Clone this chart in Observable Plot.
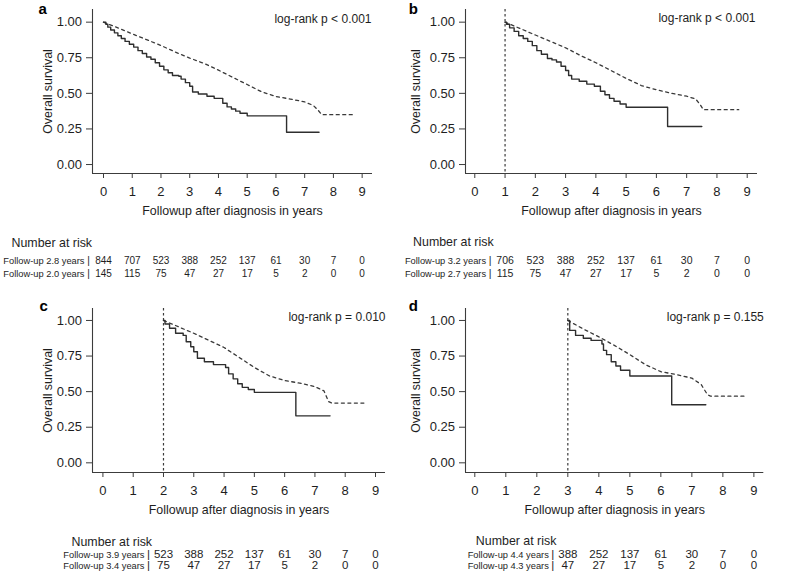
<!DOCTYPE html>
<html><head><meta charset="utf-8">
<script src="https://cdn.jsdelivr.net/npm/d3@7"></script>
<script src="https://cdn.jsdelivr.net/npm/@observablehq/plot@0.6"></script>
<style>
body{margin:0;background:#fff;}
#fig{position:relative;width:790px;height:581px;overflow:hidden;background:#fff;}
</style></head><body><div id="fig"></div>
<script>
// ---------- shared labels ----------
const xTickValues = [0, 1, 2, 3, 4, 5, 6, 7, 8, 9];
const yTickValues = [0, 0.25, 0.5, 0.75, 1];
const xTitle = "Followup after diagnosis in years";
const yTitle = "Overall survival";
const riskTitle = "Number at risk";

// ---------- panel a ----------
const aSolidTime = [0, 0.08, 0.15, 0.25, 0.38, 0.5, 0.62, 0.75, 0.9, 1.05, 1.2, 1.35, 1.5, 1.65, 1.8, 1.95, 2.1, 2.25, 2.4, 2.62, 2.7, 2.85, 3.0, 3.1, 3.3, 3.6, 3.85, 4.15, 4.3, 4.45, 4.6, 4.75, 5.0, 6.37, 7.5];
const aSolidSurv = [1, 0.985, 0.965, 0.945, 0.925, 0.905, 0.885, 0.865, 0.845, 0.825, 0.80, 0.78, 0.755, 0.74, 0.715, 0.69, 0.665, 0.645, 0.625, 0.62, 0.60, 0.575, 0.55, 0.51, 0.495, 0.48, 0.465, 0.43, 0.405, 0.39, 0.375, 0.36, 0.342, 0.227, 0.227];
const aDashTime = [0, 0.5, 1.0, 1.5, 2.0, 2.5, 3.0, 3.5, 4.0, 4.5, 5.0, 5.5, 6.0, 6.5, 7.0, 7.3, 7.45, 7.6, 8.75];
const aDashSurv = [1, 0.96, 0.918, 0.877, 0.836, 0.79, 0.748, 0.71, 0.663, 0.612, 0.562, 0.511, 0.478, 0.46, 0.44, 0.415, 0.385, 0.35, 0.35];
const aRiskTimes = [0, 1, 2, 3, 4, 5, 6, 7, 8, 9];
const aRiskRow1 = [844, 707, 523, 388, 252, 137, 61, 30, 7, 0];
const aRiskRow2 = [145, 115, 75, 47, 27, 17, 5, 2, 0, 0];
const aRowLabels = ["Follow-up 2.8 years", "Follow-up 2.0 years"];
const aPText = "log-rank p < 0.001";

// ---------- panel b ----------
const bSolidTime = [1.0, 1.05, 1.15, 1.3, 1.45, 1.6, 1.75, 1.9, 2.05, 2.2, 2.4, 2.55, 2.7, 2.85, 3.0, 3.1, 3.2, 3.45, 3.7, 3.95, 4.15, 4.3, 4.45, 4.6, 4.8, 5.0, 6.37, 7.5];
const bSolidSurv = [1, 0.985, 0.96, 0.935, 0.905, 0.885, 0.865, 0.835, 0.80, 0.775, 0.745, 0.735, 0.72, 0.69, 0.66, 0.625, 0.60, 0.585, 0.565, 0.55, 0.515, 0.49, 0.465, 0.445, 0.425, 0.402, 0.267, 0.267];
const bDashTime = [1.0, 1.5, 2.0, 2.5, 3.0, 3.5, 4.0, 4.5, 5.0, 5.5, 6.0, 6.5, 7.0, 7.3, 7.45, 7.55, 8.72];
const bDashSurv = [1, 0.955, 0.91, 0.865, 0.82, 0.765, 0.715, 0.66, 0.605, 0.555, 0.525, 0.50, 0.48, 0.46, 0.42, 0.385, 0.385];
const bRiskTimes = [1, 2, 3, 4, 5, 6, 7, 8, 9];
const bRiskRow1 = [706, 523, 388, 252, 137, 61, 30, 7, 0];
const bRiskRow2 = [115, 75, 47, 27, 17, 5, 2, 0, 0];
const bRowLabels = ["Follow-up 3.2 years", "Follow-up 2.7 years"];
const bPText = "log-rank p < 0.001";

// ---------- panel c ----------
const cSolidTime = [2.0, 2.05, 2.2, 2.4, 2.65, 2.75, 2.9, 3.0, 3.12, 3.35, 3.65, 4.05, 4.15, 4.3, 4.45, 4.6, 4.8, 5.0, 6.37, 7.5];
const cSolidSurv = [1, 0.975, 0.945, 0.91, 0.895, 0.85, 0.815, 0.78, 0.735, 0.71, 0.69, 0.67, 0.625, 0.59, 0.555, 0.53, 0.515, 0.495, 0.33, 0.33];
const cDashTime = [2.0, 2.5, 3.0, 3.5, 4.0, 4.5, 5.0, 5.5, 6.0, 6.5, 7.0, 7.3, 7.45, 7.55, 8.7];
const cDashSurv = [1, 0.955, 0.91, 0.86, 0.81, 0.74, 0.67, 0.61, 0.578, 0.56, 0.535, 0.505, 0.43, 0.42, 0.42];
const cRiskTimes = [2, 3, 4, 5, 6, 7, 8, 9];
const cRiskRow1 = [523, 388, 252, 137, 61, 30, 7, 0];
const cRiskRow2 = [75, 47, 27, 17, 5, 2, 0, 0];
const cRowLabels = ["Follow-up 3.9 years", "Follow-up 3.4 years"];
const cPText = "log-rank p = 0.010";

// ---------- panel d ----------
const dSolidTime = [3.0, 3.06, 3.25, 3.5, 3.75, 4.1, 4.15, 4.25, 4.4, 4.55, 4.7, 5.0, 6.35, 7.45];
const dSolidSurv = [1, 0.93, 0.895, 0.875, 0.86, 0.835, 0.79, 0.76, 0.71, 0.68, 0.65, 0.61, 0.408, 0.408];
const dDashTime = [3.0, 3.5, 4.0, 4.5, 5.0, 5.5, 6.0, 6.5, 7.0, 7.3, 7.5, 7.6, 8.7];
const dDashSurv = [1, 0.94, 0.885, 0.825, 0.76, 0.69, 0.64, 0.62, 0.595, 0.55, 0.48, 0.468, 0.468];
const dRiskTimes = [3, 4, 5, 6, 7, 8, 9];
const dRiskRow1 = [388, 252, 137, 61, 30, 7, 0];
const dRiskRow2 = [47, 27, 17, 5, 2, 0, 0];
const dRowLabels = ["Follow-up 4.4 years", "Follow-up 4.3 years"];
const dPText = "log-rank p = 0.155";

// ---------- drawing ----------
const fig = document.getElementById("fig");
const FONT = '"Liberation Sans", Arial, Helvetica, sans-serif';
const INK = "#1e1e1e";
const LINE = "#3c3c3c";

function place(node, left, top) {
  const wrap = document.createElement("div");
  wrap.style.position = "absolute";
  wrap.style.left = left + "px";
  wrap.style.top = top + "px";
  wrap.appendChild(node);
  fig.appendChild(wrap);
}
const zip = (ts, ss) => ts.map((t, i) => ({t, s: ss[i]}));

function drawPanel(p, L) {
  const marks = [
    Plot.ruleX([L.xDomain[0]], {stroke: LINE, strokeWidth: 1.1}),
    Plot.ruleY([L.yDomain[0]], {stroke: LINE, strokeWidth: 1.1}),
    Plot.axisX({ticks: xTickValues, tickSize: 5, tickPadding: 8, tickFormat: d => String(d), label: null, stroke: LINE, fill: INK, fontSize: 13}),
    Plot.axisY({ticks: yTickValues, tickSize: 6, tickPadding: 4.5, tickFormat: d3.format(".2f"), label: null, stroke: LINE, fill: INK, fontSize: 13})
  ];
  if (p.landmark != null) {
    marks.push(Plot.ruleX([p.landmark], {stroke: LINE, strokeWidth: 1.2, strokeDasharray: "2.5,2.5"}));
  }
  marks.push(
    Plot.line(zip(p.dashT, p.dashS), {x: "t", y: "s", stroke: "#3a3a3a", strokeWidth: 1.3, strokeDasharray: "3,3.5"}),
    Plot.line(zip(p.solidT, p.solidS), {x: "t", y: "s", curve: "step-after", stroke: "#2e2e2e", strokeWidth: 1.4}),
    Plot.text([p.letter], {frameAnchor: "top-left", textAnchor: "start", lineAnchor: "bottom", dx: L.letterDx, dy: L.letterDy, fontSize: 15, fontWeight: "bold", fill: "#000"}),
    Plot.text([p.pText], {frameAnchor: "top-right", textAnchor: "end", lineAnchor: "bottom", dx: L.pDx, dy: L.pDy, fontSize: 12, fill: INK}),
    Plot.text([xTitle], {frameAnchor: "bottom", lineAnchor: "bottom", dy: 41, fontSize: 12.4, fill: INK}),
    Plot.text([yTitle], {frameAnchor: "left", textAnchor: "middle", rotate: -90, lineAnchor: "bottom", dx: L.yTitleDx, fontSize: 12.4, fill: INK})
  );
  const svg = Plot.plot({
    width: L.width, height: L.height,
    marginLeft: L.mL, marginRight: L.mR, marginTop: L.mT, marginBottom: L.mB,
    x: {domain: L.xDomain},
    y: {domain: L.yDomain},
    style: {fontFamily: FONT, fontSize: "13px", color: INK, background: "transparent", overflow: "visible"},
    marks
  });
  place(svg, L.left, L.top);
}

function drawTable(p, L, T) {
  const rows = [];
  p.riskTimes.forEach((t, i) => {
    rows.push({t, row: p.rowLabels[0], n: p.row1[i]});
    rows.push({t, row: p.rowLabels[1], n: p.row2[i]});
  });
  const t0 = p.riskTimes[0];
  const svg = Plot.plot({
    width: L.width, height: T.height,
    marginLeft: L.mL, marginRight: L.mR, marginTop: 0, marginBottom: 0,
    x: {domain: L.xDomain, axis: null},
    y: {type: "point", domain: p.rowLabels, range: T.rowRange, padding: 0, axis: null},
    style: {fontFamily: FONT, fontSize: "12px", color: INK, background: "transparent", overflow: "visible"},
    marks: [
      Plot.text([riskTitle], {x: () => t0, frameAnchor: "top", textAnchor: "start", lineAnchor: "bottom", dx: -92, dy: T.headDy, fontSize: 12.4, fill: INK}),
      Plot.text(p.rowLabels, {x: () => t0, y: d => d, text: d => d, textAnchor: "end", lineAnchor: "bottom", dx: -19, fontSize: 9.3, fill: INK}),
      Plot.text(p.rowLabels, {x: () => t0, y: d => d, text: () => "|", lineAnchor: "bottom", dx: -15, fontSize: T.numSize, fill: INK}),
      Plot.text(rows, {x: "t", y: "row", text: "n", lineAnchor: "bottom", fontSize: T.numSize, fill: INK})
    ]
  });
  place(svg, L.left, T.top);
}

const panels = [
  {letter: "a", landmark: null, solidT: aSolidTime, solidS: aSolidSurv, dashT: aDashTime, dashS: aDashSurv, pText: aPText,
   riskTimes: aRiskTimes, row1: aRiskRow1, row2: aRiskRow2, rowLabels: aRowLabels},
  {letter: "b", landmark: 1, solidT: bSolidTime, solidS: bSolidSurv, dashT: bDashTime, dashS: bDashSurv, pText: bPText,
   riskTimes: bRiskTimes, row1: bRiskRow1, row2: bRiskRow2, rowLabels: bRowLabels},
  {letter: "c", landmark: 2, solidT: cSolidTime, solidS: cSolidSurv, dashT: cDashTime, dashS: cDashSurv, pText: cPText,
   riskTimes: cRiskTimes, row1: cRiskRow1, row2: cRiskRow2, rowLabels: cRowLabels},
  {letter: "d", landmark: 3, solidT: dSolidTime, solidS: dSolidSurv, dashT: dDashTime, dashS: dDashSurv, pText: dPText,
   riskTimes: dRiskTimes, row1: dRiskRow1, row2: dRiskRow2, rowLabels: dRowLabels}
];

const layouts = [
  {left: 0, top: 0, width: 395, height: 225, mL: 92, mR: 23, mT: 9, mB: 52, xDomain: [-0.383, 9.36], yDomain: [-0.063, 1.089],
   letterDx: -54, letterDy: 4.5, pDx: -1, pDy: 13.3, yTitleDx: -40.5},
  {left: 395, top: 0, width: 395, height: 225, mL: 70, mR: 33, mT: 9, mB: 52, xDomain: [-0.307, 9.34], yDomain: [-0.063, 1.089],
   letterDx: -56.7, letterDy: 4, pDx: -2, pDy: 12.7, yTitleDx: -45.5},
  {left: 0, top: 290, width: 395, height: 235, mL: 92, mR: 10, mT: 18, mB: 53, xDomain: [-0.344, 9.33], yDomain: [-0.068, 1.084],
   letterDx: -53, letterDy: 2, pDx: 0, pDy: 12.7, yTitleDx: -40.8},
  {left: 395, top: 290, width: 395, height: 235, mL: 70, mR: 26.7, mT: 18, mB: 53, xDomain: [-0.3, 9.32], yDomain: [-0.068, 1.084],
   letterDx: -56.7, letterDy: 2, pDx: 0, pDy: 12.7, yTitleDx: -45.5}
];

const tables = [
  {top: 225, height: 56, rowRange: [37.7, 51.5], headDy: 21.7, numSize: 10},
  {top: 225, height: 56, rowRange: [37.7, 51.5], headDy: 20.7, numSize: 10.5},
  {top: 525, height: 56, rowRange: [31.5, 43.2], headDy: 20, numSize: 11.5},
  {top: 525, height: 56, rowRange: [31.5, 43.2], headDy: 19.5, numSize: 11.5}
];

panels.forEach((p, i) => {
  drawPanel(p, layouts[i]);
  drawTable(p, layouts[i], tables[i]);
});
</script>
</body></html>
